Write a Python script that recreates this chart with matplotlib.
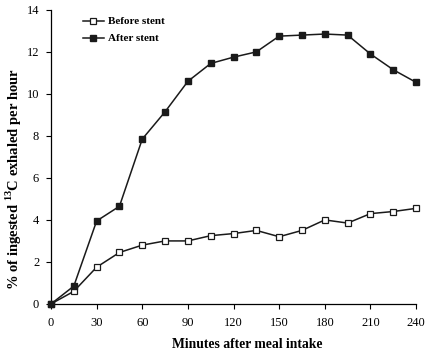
import matplotlib
matplotlib.use("Agg")
import matplotlib.pyplot as plt

minutes = [0, 15, 30, 45, 60, 75, 90, 105, 120, 135, 150, 165, 180, 195, 210, 225, 240]
before_stent = [0, 0.6, 1.75, 2.45, 2.8, 3.0, 3.0, 3.25, 3.35, 3.5, 3.2, 3.5, 4.0, 3.85, 4.3, 4.4, 4.55]
after_stent = [0, 0.85, 3.95, 4.65, 7.85, 9.15, 10.6, 11.45, 11.75, 12.0, 12.75, 12.8, 12.85, 12.8, 11.9, 11.15, 10.55]
x_ticks = [0, 30, 60, 90, 120, 150, 180, 210, 240]
y_ticks = [0, 2, 4, 6, 8, 10, 12, 14]

plt.rcParams['font.family'] = ['Liberation Serif', 'DejaVu Serif']
plt.rcParams['mathtext.fontset'] = 'custom'
plt.rcParams['mathtext.rm'] = 'Liberation Serif'
plt.rcParams['mathtext.bf'] = 'Liberation Serif:bold'

fig = plt.figure(figsize=(4.25, 3.53), dpi=100)
ax = fig.add_axes([0.12, 0.139, 0.859, 0.833])

ax.plot(minutes, before_stent, color='#1a1a1a', lw=1.1, marker='s', markersize=5,
        markerfacecolor='white', markeredgecolor='#1a1a1a', markeredgewidth=0.9,
        label='Before stent', clip_on=False, zorder=3)
ax.plot(minutes, after_stent, color='#1a1a1a', lw=1.1, marker='s', markersize=5,
        markerfacecolor='#1a1a1a', markeredgecolor='#1a1a1a',
        label='After stent', clip_on=False, zorder=3)

ax.set_xlim(0, 240)
ax.set_ylim(0, 14)
ax.set_xticks(x_ticks)
ax.set_yticks(y_ticks)
for s in ['top', 'right']:
    ax.spines[s].set_visible(False)
for s in ['left', 'bottom']:
    ax.spines[s].set_linewidth(0.9)
ax.tick_params(direction='out', length=3.5, width=0.8, labelsize=9)
ax.tick_params(axis='x', pad=6)
ax.tick_params(axis='y', pad=5)

fig.text(247.5 / 425, 1 - 345 / 353, 'Minutes after meal intake', fontsize=9.8,
         fontweight='bold', ha='center', va='center')
fig.text(14 / 425, 1 - 179 / 353, r'% of ingested $^{\mathbf{13}}$C exhaled per hour',
         fontsize=10.5, fontweight='bold', rotation=90, ha='center', va='center')

leg = ax.legend(loc='upper left', bbox_to_anchor=(0.059, 1.011), frameon=False,
                prop={'weight': 'bold', 'size': 8}, handlelength=1.9,
                handletextpad=0.35, labelspacing=0.65)

fig.savefig('out.png', dpi=100)
